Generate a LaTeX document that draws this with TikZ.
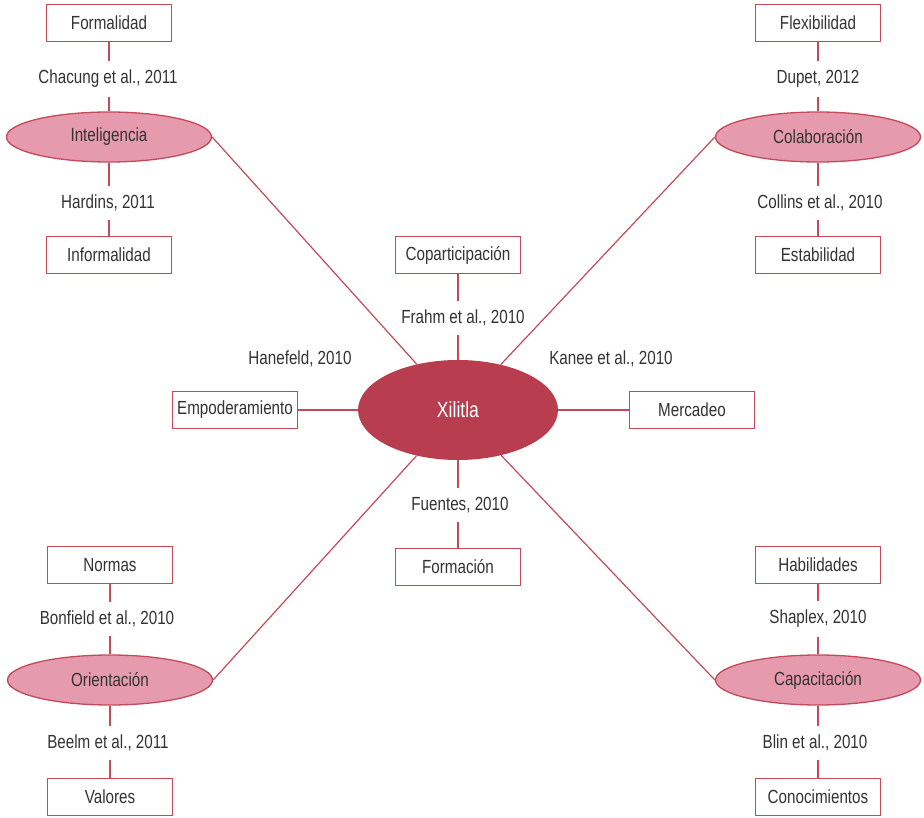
\documentclass[tikz,border=0pt]{standalone}
\usepackage{fontspec}
\setmainfont[FakeStretch=0.8]{Liberation Sans}
\usetikzlibrary{shapes.geometric}

\definecolor{rojo}{HTML}{B83E4F}
\definecolor{rosa}{HTML}{E59AAE}
\definecolor{linea}{HTML}{C44A5A}
\definecolor{texto}{HTML}{333333}

\begin{document}
\begin{tikzpicture}[x=1pt,y=-1pt,
	font=\fontsize{19}{22}\selectfont, text=texto,
	caja/.style={draw=linea, line width=1.3pt, fill=white,
		minimum width=125pt, minimum height=37pt, inner sep=2pt},
	elipse/.style={ellipse, draw=linea, fill=rosa, line width=1.3pt,
		minimum width=205pt, minimum height=50pt, inner sep=0pt},
	cita/.style={fill=white, inner xsep=3pt, inner ysep=9pt},
	enlace/.style={draw=linea, line width=1.2pt}]

% frame %{{{2

	\useasboundingbox (0,0) rectangle (924,818);

% centre %{{{2

	\node[ellipse, fill=rojo, text=white, minimum width=200pt,
		minimum height=100pt, font=\fontsize{22}{25}\selectfont]
		(xilitla) at (458,410) {Xilitla};

% ellipses %{{{2

	\node[elipse] (inteligencia) at (109,137) {Inteligencia};
	\node[elipse] (colaboracion) at (818,137) {Colaboración};
	\node[elipse] (orientacion)  at (110,680) {Orientación};
	\node[elipse] (capacitacion) at (818,680) {Capacitación};

% boxes %{{{2

	% ---- corners

	\node[caja] (formalidad)    at (109,23)  {Formalidad};
	\node[caja] (informalidad)  at (109,255) {Informalidad};
	\node[caja] (flexibilidad)  at (818,23)  {Flexibilidad};
	\node[caja] (estabilidad)   at (818,255) {Estabilidad};
	\node[caja] (normas)        at (110,565) {Normas};
	\node[caja] (valores)       at (110,797) {Valores};
	\node[caja] (habilidades)   at (818,565) {Habilidades};
	\node[caja] (conocimientos) at (818,797) {Conocimientos};

	% ---- around the centre

	\node[caja] (coparticipacion) at (458,255) {Coparticipación};
	\node[caja] (empoderamiento)  at (235,410) {Empoderamiento};
	\node[caja] (mercadeo)        at (692,410) {Mercadeo};
	\node[caja] (formacion)       at (458,567) {Formación};

% connectors %{{{2

	\draw[enlace] (formalidad) -- (inteligencia) -- (informalidad);
	\draw[enlace] (flexibilidad) -- (colaboracion) -- (estabilidad);
	\draw[enlace] (normas) -- (orientacion) -- (valores);
	\draw[enlace] (habilidades) -- (capacitacion) -- (conocimientos);

	% ---- spokes

	\draw[enlace] (xilitla) -- (inteligencia.east);
	\draw[enlace] (xilitla) -- (colaboracion.west);
	\draw[enlace] (xilitla) -- (orientacion.east);
	\draw[enlace] (xilitla) -- (capacitacion.west);
	\draw[enlace] (xilitla) -- (coparticipacion);
	\draw[enlace] (xilitla) -- (formacion);
	\draw[enlace] (xilitla) -- (empoderamiento);
	\draw[enlace] (xilitla) -- (mercadeo);

% citations %{{{2

	\node[cita] (chacung)  at (108,79)  {Chacung et al., 2011};
	\node[cita] (hardins)  at (108,203) {Hardins, 2011};
	\node[cita] (dupet)    at (818,79)  {Dupet, 2012};
	\node[cita] (collins)  at (820,203) {Collins et al., 2010};
	\node[cita] (bonfield) at (107,619) {Bonfield et al., 2010};
	\node[cita] (beelm)    at (108,743) {Beelm et al., 2011};
	\node[cita] (shaplex)  at (818,619) {Shaplex, 2010};
	\node[cita] (blin)     at (815,743) {Blin et al., 2010};

	% ---- around the centre

	\node[cita] (frahm)    at (463,318) {Frahm et al., 2010};
	\node[cita] (hanefeld) at (300,359) {Hanefeld, 2010};
	\node[cita] (kanee)    at (611,359) {Kanee et al., 2010};
	\node[cita] (fuentes)  at (460,505) {Fuentes, 2010};

% closing %{{{2

\end{tikzpicture}
\end{document}
